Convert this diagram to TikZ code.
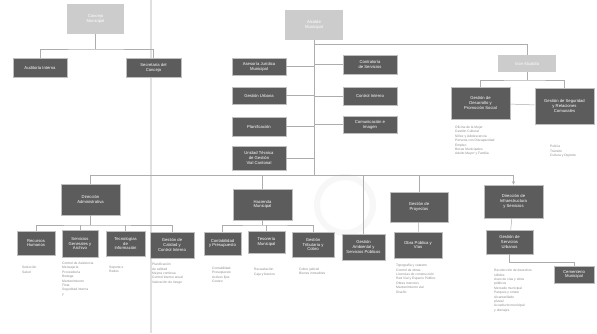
\documentclass[tikz,border=0pt]{standalone}
\usepackage{fontspec}
\setmainfont{Liberation Sans}
\begin{document}
\begin{tikzpicture}[x=1pt,y=-1pt,
  box/.style={draw=gray!50, line width=0.9pt, fill=black!64, text=white,
    font=\fontsize{4.2}{4.8}\selectfont, align=center, inner sep=1pt},
  lbox/.style={fill=black!20, text=white, font=\fontsize{4.2}{4.8}\selectfont,
    align=center, inner sep=1pt},
  lst/.style={font=\fontsize{3.3}{4.4}\selectfont, text=black!45, align=left,
    anchor=north west, inner sep=0pt},
  ln/.style={draw=black!32, line width=0.5pt}]
\useasboundingbox (0,0) rectangle (597,333);
\fill[white] (0,0) rectangle (597,333);
% page fold and faint watermark
\draw[black!12, line width=1.2pt] (151,0) -- (151,333);
\draw[black!3, line width=6pt] (345,205) circle (28);
% top level
\node[lbox, minimum width=57, minimum height=30] (concejo) at (95.5,19) {Concejo\\Municipal};
\node[lbox, minimum width=58, minimum height=30] (alcalde) at (314,25) {Alcalde\\Municipal};
\node[box, minimum width=54, minimum height=19] (audit) at (40,67.5) {Auditoría Interna};
\node[box, minimum width=55, minimum height=19] (secre) at (153.5,67.5) {Secretaría del\\Concejo};
% centre column left
\node[box, minimum width=54, minimum height=17] (c1) at (259,66.5) {Asesoría Jurídica\\Municipal};
\node[box, minimum width=54, minimum height=17] (c2) at (259,95.5) {Gestión Urbana};
\node[box, minimum width=54, minimum height=19] (c3) at (259,126.5) {Planificación};
\node[box, minimum width=54, minimum height=24] (c4) at (259,158) {Unidad Técnica\\de Gestión\\Vial Cantonal};
% centre column right
\node[box, minimum width=54, minimum height=19] (d1) at (370,64.5) {Contraloría\\de Servicios};
\node[box, minimum width=54, minimum height=18] (d2) at (370,96) {Control Interno};
\node[box, minimum width=54, minimum height=17] (d3) at (370,124.5) {Comunicación e\\Imagen};
% vice alcaldia
\node[lbox, minimum width=58, minimum height=17] (vice) at (527,63.5) {Vice Alcaldía};
\node[box, minimum width=59, minimum height=32] (dps) at (480.5,103) {Gestión de\\Desarrollo y\\Promoción Social};
\node[box, minimum width=59, minimum height=36] (gsc) at (564.5,106) {Gestión de Seguridad\\y Relaciones\\Comunales};
\node[lst] (l1) at (455,126) {Oficina de la Mujer\\Gestión Cultural\\Niñez y Adolescencia\\Persona con Discapacidad\\Empleo\\Becas Municipales\\Adulto Mayor y Familia};
\node[lst] (l2) at (550,145) {Policía\\Tránsito\\Cultura y Deporte};
% directions
\node[box, minimum width=59, minimum height=31] (adm) at (90.5,199.5) {Dirección\\Administrativa};
\node[box, minimum width=59, minimum height=31] (fin) at (262.5,204.5) {Hacienda\\Municipal};
\node[box, minimum width=58, minimum height=30] (pro) at (419,207) {Gestión de\\Proyectos};
\node[box, minimum width=59, minimum height=33] (inf) at (513.5,201.5) {Dirección de\\Infraestructura\\y Servicios};
% admin subs
\node[box, minimum width=38, minimum height=24] (a1) at (36,243) {Recursos\\Humanos};
\node[box, minimum width=36, minimum height=27] (a2) at (80,243.5) {Servicios\\Generales y\\Archivo};
\node[box, minimum width=39, minimum height=25] (a3) at (125.5,243.5) {Tecnologías\\de\\Información};
\node[box, minimum width=44, minimum height=26] (a4) at (172,245) {Gestión de\\Calidad y\\Control Interno};
% hacienda subs
\node[box, minimum width=37, minimum height=23] (f1) at (222.5,243.5) {Contabilidad\\y Presupuesto};
\node[box, minimum width=37, minimum height=22] (f2) at (266.5,242) {Tesorería\\Municipal};
\node[box, minimum width=42, minimum height=25] (f3) at (313,244.5) {Gestión\\Tributaria y\\Cobro};
\node[box, minimum width=43, minimum height=26] (g1) at (363.5,247) {Gestión\\Ambiental y\\Servicios Públicos};
% proyectos sub
\node[box, minimum width=48, minimum height=26] (p1) at (418,245) {Obra Pública y\\Vías};
% infra sub
\node[box, minimum width=47, minimum height=24] (i1) at (509.5,242) {Gestión de\\Servicios\\Urbanos};
\node[box, minimum width=40, minimum height=17] (i2) at (574,274.5) {Cementerio\\Municipal};
% lists
\node[lst] (la1) at (22,266) {Selección\\Salud};
\node[lst] (la2) at (62,262) {Control de Asistencia\\Mensajería\\Proveeduría\\Bodega\\Mantenimiento\\Flota\\Seguridad interna\\y};
\node[lst] (la3) at (109,266) {Soporte e\\Redes};
\node[lst] (la4) at (152,263) {Planificación\\de calidad\\Mejora continua\\Control interno anual\\Valoración de riesgo};
\node[lst] (lf1) at (212,267) {Contabilidad\\Presupuesto\\Activos fijos\\Costeo};
\node[lst] (lf2) at (254,268) {Recaudación\\Caja y bancos};
\node[lst] (lf3) at (299,268) {Cobro judicial\\Bienes inmuebles};
\node[lst] (lp1) at (396,264) {Topografía y catastro\\Control de obras\\Licencias de construcción\\Red Vial y Espacio Público\\Obras menores\\Mantenimiento vial\\Diseño};
\node[lst] (li1) at (494,269) {Recolección de desechos\\sólidos\\Aseo de vías y sitios\\públicos\\Mercado municipal\\Parques y ornato\\Alcantarillado\\pluvial\\Acueducto municipal\\y drenajes};
% connectors top
\coordinate (tl) at (95.5,49);
\draw[ln] (concejo) -- (tl);
\draw[ln] (audit.north) |- (tl) -| (secre.north);
\coordinate (t1) at (314,44);
\coordinate (tv) at (527,44);
\draw[ln] (alcalde) -- (t1) -- (tv) -- (vice);
\coordinate (trunk) at (314,175);
\draw[ln] (t1) -- (trunk);
\foreach \n in {c1,c2,c3,c4} \draw[ln] (\n.east) -- (\n.east -| trunk);
\foreach \n in {d1,d2,d3} \draw[ln] (\n.west) -- (\n.west -| trunk);
% vice
\coordinate (vb) at (527,80);
\draw[ln] (vice) -- (vb);
\draw[ln] (dps.north) |- (vb) -| (gsc.north);
\draw[ln] (dps) -- (gsc);
% main bus
\coordinate (bl) at (90.5,175);
\coordinate (br) at (513.5,175);
\draw[ln] (bl) -- (br);
\draw[ln] (bl) -- (adm);
\draw[ln] (trunk) -| (fin);
\draw[ln] (g1.north) -- (g1.north |- trunk);
\draw[ln] (pro.north) -- (pro.north |- trunk);
\draw[ln,-stealth] (br) -- (inf);
% admin bus
\coordinate (ab) at (90.5,225);
\draw[ln] (adm) -- (ab);
\draw[ln] (a1.north) |- (ab) -| (a4.north);
\draw[ln] (a2.north) -- (a2.north |- ab);
\draw[ln] (a3.north) -- (a3.north |- ab);
% hacienda bus
\coordinate (fb) at (262.5,225);
\draw[ln] (fin) -- (fb);
\draw[ln] (f1.north) |- (fb) -| (f3.north);
\draw[ln] (f2.north) -- (f2.north |- fb);
% proyectos
\draw[ln] (pro) -- (p1);
% infra
\draw[ln] (inf) -- (i1);
\coordinate (ib) at (509.5,262);
\draw[ln] (i1) -- (ib) -| (i2.north);
\end{tikzpicture}
\end{document}
